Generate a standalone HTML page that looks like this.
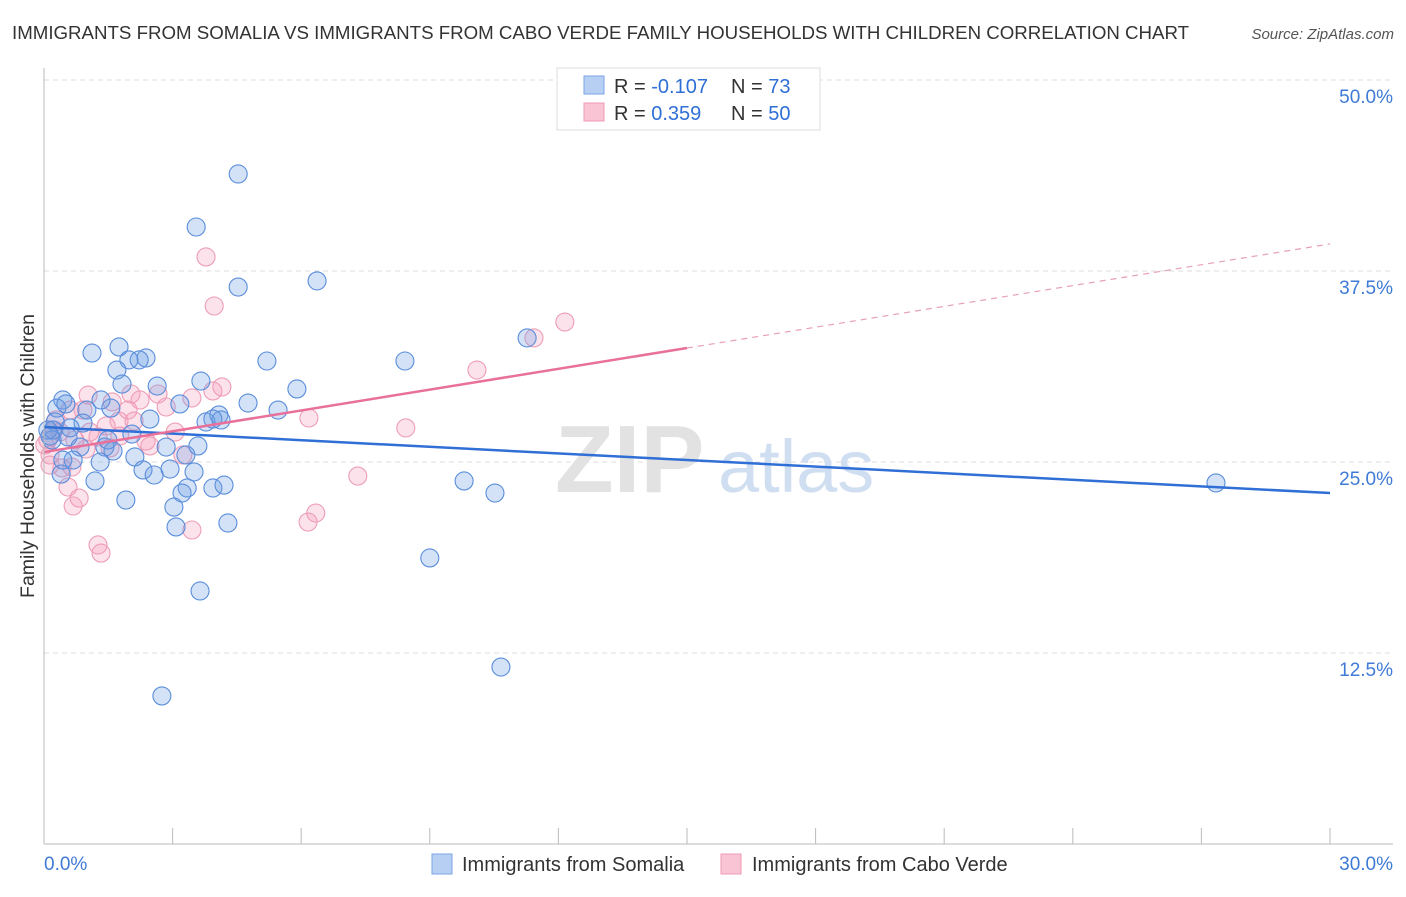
<!DOCTYPE html>
<html><head><meta charset="utf-8"><style>
body{margin:0;background:#fff;font-family:"Liberation Sans",sans-serif;}
svg text{font-family:"Liberation Sans",sans-serif;}
</style></head><body>
<svg width="1406" height="892">
<text x="12" y="39" font-size="18.7" fill="#333">IMMIGRANTS FROM SOMALIA VS IMMIGRANTS FROM CABO VERDE FAMILY HOUSEHOLDS WITH CHILDREN CORRELATION CHART</text>
<text x="1394" y="39" font-size="15" fill="#555" font-style="italic" text-anchor="end">Source: ZipAtlas.com</text>
<g id="grid"></g>
<text x="555" y="492" font-size="96" font-weight="bold" fill="#e2e2e2">ZIP</text>
<text x="718" y="492" font-size="74" fill="#d0def2">atlas</text>
<g id="marks"></g>
<g id="axes"></g>
<text transform="translate(34,456) rotate(-90)" font-size="19.5" fill="#333" text-anchor="middle">Family Households with Children</text>
<g>
<rect x="557" y="68" width="263" height="62" fill="#fff" stroke="#ddd"/>
<rect x="584" y="76" width="20" height="18" fill="#b7cff3" stroke="#7aa6e6"/>
<rect x="584" y="103" width="20" height="18" fill="#f9c4d3" stroke="#ee9ab4"/>
<text x="614" y="93" font-size="20" fill="#333">R = <tspan fill="#2f6fd6">-0.107</tspan></text>
<text x="731" y="93" font-size="20" fill="#333">N = <tspan fill="#2f6fd6"> 73</tspan></text>
<text x="614" y="120" font-size="20" fill="#333">R = <tspan fill="#2f6fd6"> 0.359</tspan></text>
<text x="731" y="120" font-size="20" fill="#333">N = <tspan fill="#2f6fd6">50</tspan></text>
</g>
<g>
<rect x="432" y="854" width="20" height="20" fill="#b7cff3" stroke="#7aa6e6"/>
<text x="462" y="871" font-size="20" fill="#333">Immigrants from Somalia</text>
<rect x="721" y="854" width="20" height="20" fill="#f9c4d3" stroke="#ee9ab4"/>
<text x="752" y="871" font-size="20" fill="#333">Immigrants from Cabo Verde</text>
</g>
</svg>
<script>
const somaliaX=[4.53,3.55,4.53,6.37,11.27,8.42,5.20,1.12,1.75,2.38,2.22,1.98,1.70,1.82,2.64,3.66,5.90,4.76,5.46,3.17,1.56,1.33,0.44,0.30,1.00,0.51,2.47,3.78,4.08,4.13,3.94,0.26,0.91,0.21,0.56,2.05,1.42,1.61,2.85,3.59,3.31,2.12,0.84,0.68,1.31,0.40,1.19,2.31,2.57,3.50,2.94,9.80,10.52,27.34,3.34,3.22,3.94,4.20,1.91,3.03,3.08,4.29,9.00,3.64,10.66,2.75,0.19,0.09,0.44,0.14,0.61,1.49];
const somaliaY=[43.85,40.38,36.45,36.85,33.12,31.61,31.61,32.13,32.53,31.81,31.68,31.68,31.02,30.10,29.97,30.30,29.78,28.86,28.40,28.80,28.53,29.06,29.06,28.53,28.40,28.80,27.81,27.62,28.08,27.75,27.81,27.62,27.55,27.09,26.64,26.83,25.98,25.72,25.98,26.05,25.46,25.33,25.98,25.13,25.00,24.21,23.76,24.48,24.15,24.35,24.54,23.76,22.97,23.63,23.30,22.97,23.30,23.49,22.51,22.05,20.75,21.01,18.72,16.56,11.58,9.69,26.44,27.09,25.13,26.70,27.23,26.44];
const caboX=[3.78,3.97,12.15,11.43,10.10,4.15,3.94,3.45,2.03,2.66,2.85,2.24,1.59,0.91,0.61,6.18,8.44,1.75,2.10,1.45,0.23,0.09,1.26,3.06,2.38,1.54,3.24,0.98,0.14,0.65,0.42,7.32,0.56,0.82,0.68,6.34,6.16,1.26,1.33,3.45,0.14,0.37,1.07,1.77,2.47,0.72,0.28,1.96,1.03,0.02];
const caboY=[38.42,35.21,34.16,33.12,31.02,29.91,29.65,29.19,29.45,29.45,28.60,29.06,28.93,28.40,28.40,27.88,27.23,27.68,27.68,27.36,27.09,26.44,26.64,26.96,26.37,25.92,25.46,25.85,25.46,24.67,24.61,24.08,23.36,22.64,22.12,21.66,21.07,19.57,19.04,20.55,24.80,26.96,26.96,26.70,26.05,26.44,27.75,28.40,29.38,26.11];
const somaliaTrend=[27.29,22.97];
const caboTrend=[25.65,39.27];
const yTicks=[12.5,25,37.5,50];
const yTickLabels=["12.5%","25.0%","37.5%","50.0%"];
const xTickCount=10;
const xMax=30;

const NS="http://www.w3.org/2000/svg";
const X=v=>44+v*(1330-44)/xMax;
const Y=v=>844-v*15.28;
function mk(tag,attrs,parent){const e=document.createElementNS(NS,tag);for(const k in attrs)e.setAttribute(k,attrs[k]);parent.appendChild(e);return e;}
const grid=document.getElementById('grid'),marks=document.getElementById('marks'),axes=document.getElementById('axes');
yTicks.forEach((t,i)=>{
 const l=mk('line',{x1:44,x2:1393,y1:Y(t),y2:Y(t),stroke:'#ddd','stroke-dasharray':'5,4'},grid);
 
 
 const tx=mk('text',{x:1393,y:Y(t)+23,'font-size':19,fill:'#3f7ad6','text-anchor':'end'},axes);
 tx.textContent=yTickLabels[i];
 
 
});
const ax=mk('line',{x1:44,x2:44,y1:68,y2:844,stroke:'#bbb'},axes);


const bx=mk('line',{x1:44,x2:1393,y1:844,y2:844,stroke:'#bbb'},axes);


for(let i=0;i<=xTickCount;i++){
 const v=i*xMax/xTickCount;
 const t=mk('line',{x1:X(v),x2:X(v),y1:828,y2:844,stroke:'#bbb'},axes);
 
 
}
const x0=mk('text',{x:44,y:870,'font-size':19,fill:'#3f7ad6'},axes);x0.textContent="0.0%";


const x1=mk('text',{x:1393,y:870,'font-size':19,fill:'#3f7ad6','text-anchor':'end'},axes);x1.textContent="30.0%";



caboX.forEach((v,i)=>{
 const c=mk('circle',{cx:X(v),cy:Y(caboY[i]),r:9,fill:'rgba(244,160,188,0.3)',stroke:'#ee9db6','stroke-width':1.1},marks);
 
 
});
somaliaX.forEach((v,i)=>{
 const c=mk('circle',{cx:X(v),cy:Y(somaliaY[i]),r:9,fill:'rgba(110,160,230,0.3)',stroke:'#5a8ddb','stroke-width':1.1},marks);
 
 
});
const bl=mk('line',{x1:X(0),y1:Y(somaliaTrend[0]),x2:X(xMax),y2:Y(somaliaTrend[1]),stroke:'#2f6fd6','stroke-width':2.5},marks);


const mid=caboTrend[0]+(caboTrend[1]-caboTrend[0])*0.5;
const pl=mk('line',{x1:X(0),y1:Y(caboTrend[0]),x2:X(xMax/2),y2:Y(mid),stroke:'#e8709a','stroke-width':2.5},marks);


const pd=mk('line',{x1:X(xMax/2),y1:Y(mid),x2:X(xMax),y2:Y(caboTrend[1]),stroke:'#e8a0b8','stroke-width':1.2,'stroke-dasharray':'6,5'},marks);


</script>
</body></html>
